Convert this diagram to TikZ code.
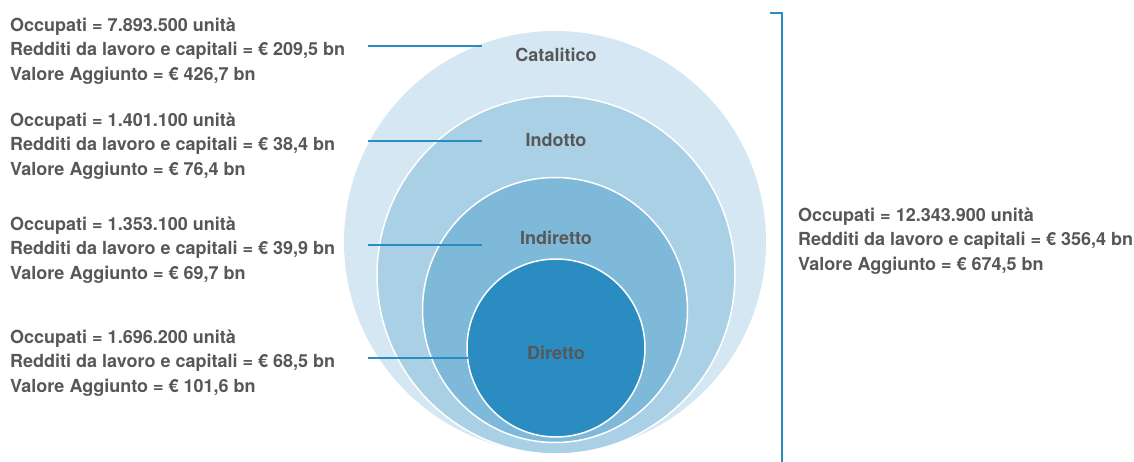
\documentclass[tikz,border=0pt]{standalone}
\usepackage{fontspec}
\setmainfont{TeX Gyre Heros}
\usepackage{xcolor}
\usepackage{tikz}
\usetikzlibrary{positioning}
\definecolor{ringA}{HTML}{D5E7F2}
\definecolor{ringB}{HTML}{A9D0E5}
\definecolor{ringC}{HTML}{7FB9DA}
\definecolor{ringD}{HTML}{2A8CC1}
\definecolor{txtgrey}{HTML}{575757}
\definecolor{leadblue}{HTML}{2A8CC1}
\tikzset{
    ring/.style={
        circle,
        draw=white,
        line width=1.5pt,
        inner sep=0pt
    },
    ringlabel/.style={
        font=\fontsize{18}{20}\selectfont\bfseries,
        text=txtgrey,
        inner sep=0pt
    },
    figures/.style={
        anchor=west,
        align=left,
        inner sep=0pt,
        font=\fontsize{18}{24.5}\selectfont\bfseries,
        text=txtgrey
    },
    leader/.style={
        draw=leadblue,
        line width=2.5pt
    }
}

\begin{document}
\begin{tikzpicture}[x=1pt, y=-1pt]
\useasboundingbox (0,0) rectangle (1134,462);

% Nested circles
\node[ring, draw=none, fill=ringA, minimum size=422pt] (catcirc) at (555,242) {};
\node[ring, fill=ringB, minimum size=358pt] (indcirc) at (556,275) {};
\node[ring, fill=ringC, minimum size=265pt] (indircirc) at (555,310) {};
\node[ring, fill=ringD, minimum size=178pt] (dircirc) at (556,348) {};

\node[ringlabel] (catlbl) at (556,55) {Catalitico};
\node[ringlabel] (indlbl) at (556,140) {Indotto};
\node[ringlabel] (indirlbl) at (556,238) {Indiretto};
\node[ringlabel] (dirlbl) at (556,353) {Diretto};

% Figures per ring
\node[figures] (occcat) at (10,51) {Occupati = 7.893.500 unità\\Redditi da lavoro e capitali = € 209,5 bn\\Valore Aggiunto = € 426,7 bn};
\node[figures] (occind) at (10,146) {Occupati = 1.401.100 unità\\Redditi da lavoro e capitali = € 38,4 bn\\Valore Aggiunto = € 76,4 bn};
\node[figures] (occindir) at (10,250) {Occupati = 1.353.100 unità\\Redditi da lavoro e capitali = € 39,9 bn\\Valore Aggiunto = € 69,7 bn};
\node[figures] (occdir) at (10,363) {Occupati = 1.696.200 unità\\Redditi da lavoro e capitali = € 68,5 bn\\Valore Aggiunto = € 101,6 bn};

% Leader lines
\coordinate (catL) at (368,46);
\coordinate (catR) at (482,46);
\coordinate (indL) at (368,141);
\coordinate (indR) at (482,141);
\coordinate (indirL) at (368,245);
\coordinate (indirR) at (482,245);
\coordinate (dirL) at (368,358);
\coordinate (dirR) at (468,358);
\draw[leader] (catL) -- (catR);
\draw[leader] (indL) -- (indR);
\draw[leader] (indirL) -- (indirR);
\draw[leader] (dirL) -- (dirR);

% Total bracket
\coordinate (brtop) at (770,13);
\coordinate (brbot) at (782,462);
\draw[leader] (brtop) -- (brtop -| brbot) -- (brbot);
\node[figures] (occtot) at (798,241) {Occupati = 12.343.900 unità\\Redditi da lavoro e capitali = € 356,4 bn\\Valore Aggiunto = € 674,5 bn};

\end{tikzpicture}
\end{document}
